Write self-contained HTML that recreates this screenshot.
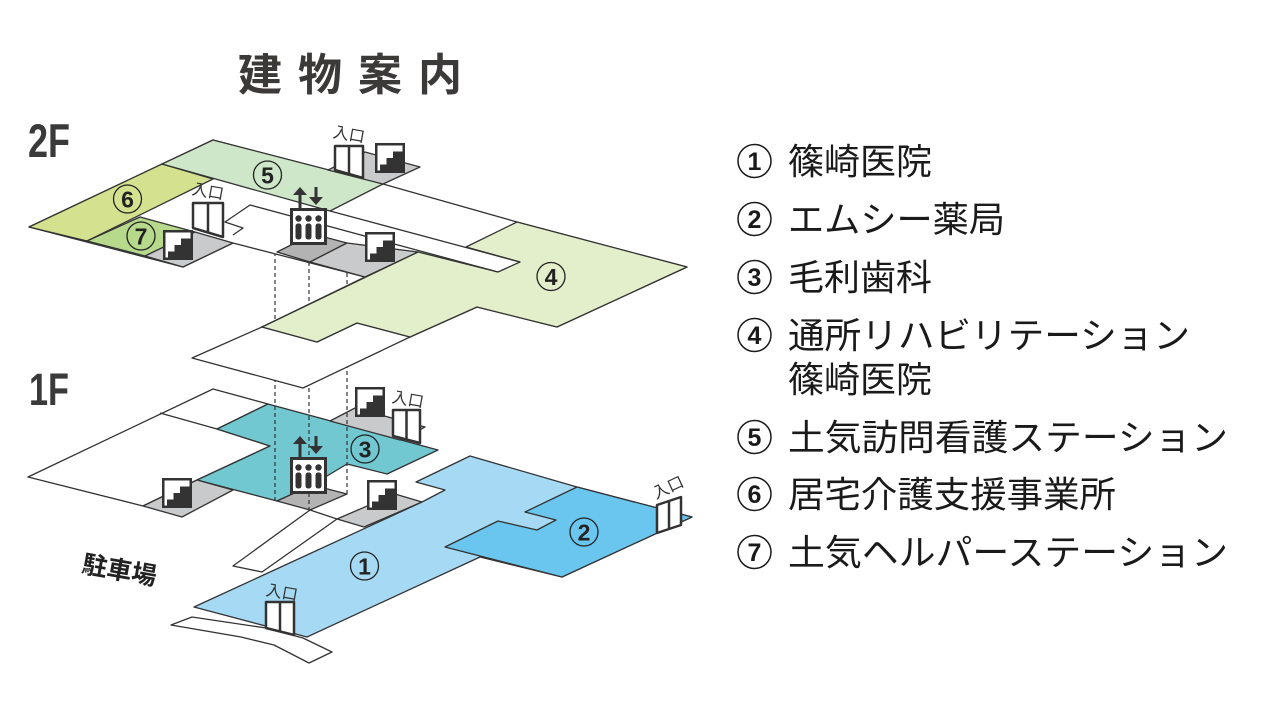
<!DOCTYPE html>
<html><head><meta charset="utf-8"><style>
html,body{margin:0;padding:0;background:#fff;}
svg{display:block;}
text{font-family:"Liberation Sans","Noto Sans CJK JP",sans-serif;}
</style></head><body>
<svg width="1280" height="720" viewBox="0 0 1280 720" xmlns="http://www.w3.org/2000/svg">
<defs>
<g id="stairs">
<rect x="1.25" y="1.25" width="27.5" height="27.5" fill="#fff" stroke="#333" stroke-width="2.5"/>
<path d="M5,27.5 V21.5 H11.5 V15 H18 V8.5 H27.5 V27.5 Z" fill="#333"/>
</g>
<g id="elev">
<path d="M10,-21 L3,-13 H8.5 V0 H11.5 V-13 H17 Z" fill="#333"/>
<path d="M26,-3 L19,-11 H24.5 V-21 H27.5 V-11 H33 Z" fill="#333"/>
<rect x="1.5" y="1.5" width="34" height="34" fill="#fff" stroke="#333" stroke-width="3"/>
<circle cx="8.5" cy="10.5" r="3.2" fill="#333"/>
<circle cx="18.5" cy="10.5" r="3.2" fill="#333"/>
<circle cx="28.5" cy="10.5" r="3.2" fill="#333"/>
<rect x="5.5" y="15.5" width="6" height="16" rx="2.5" fill="#333"/>
<rect x="15.5" y="15.5" width="6" height="16" rx="2.5" fill="#333"/>
<rect x="25.5" y="15.5" width="6" height="16" rx="2.5" fill="#333"/>
</g>
</defs>

<!-- Title -->
<text x="238" y="90" font-size="44" font-weight="bold" fill="#3c3939" textLength="224" lengthAdjust="spacing">建物案内</text>
<text x="28" y="157" font-size="47" font-weight="bold" fill="#3a3a3a" textLength="42" lengthAdjust="spacingAndGlyphs">2F</text>
<text x="29" y="405" font-size="45" font-weight="bold" fill="#3a3a3a" textLength="40" lengthAdjust="spacingAndGlyphs">1F</text>

<!-- ===== 1F ===== -->
<g stroke="#333" stroke-width="1.3" stroke-linejoin="round">
<polygon points="28,477 213,389 268,404 217,429 270,446 197,480 143,506" fill="#fff"/>
<line x1="160" y1="413" x2="217" y2="429"/>
<polygon points="217,429 268,404 438,450 387,474 347,464 312,485 277,501 197,480 270,446" fill="#72c8d1"/>
<polygon points="330,421 355,408 425,427 400,440" fill="#c9cacb"/>
<polygon points="143,506 197,480 233,490 182,517" fill="#c9cacb"/>
<polygon points="277,501 312,485 347,494 310,510" fill="#b3b3b3"/>
<polygon points="233,566 310,510 337,519 262,572" fill="#fff"/>
<polygon points="337,519 395,494 422,502 364,527" fill="#c9cacb"/>
<polygon points="194,607 422,502 445,490 416,482 470,456 577,487 692,517 562,577 480,557 307,637" fill="#a5d9f4"/>
<polygon points="577,487 692,517 562,577 445,547 498,521 537,530 556,520 525,512" fill="#6bc6ef"/>
<polygon points="171,625 192,617 266,628 303,638 332,652 309,663 274,645 241,637" fill="#fff"/>
</g>

<!-- dashed connectors -->
<g stroke="#333" stroke-width="1.2" stroke-dasharray="4 3">
<line x1="275" y1="252" x2="275" y2="501"/>
<line x1="309" y1="262" x2="309" y2="510"/>
<line x1="347" y1="273" x2="347" y2="494"/>
</g>

<!-- 1F icons -->
<use href="#stairs" x="355" y="387"/>
<use href="#stairs" x="162" y="478"/>
<use href="#stairs" x="367" y="480"/>
<use href="#elev" x="290" y="457"/>
<g fill="#fff" stroke="#333" stroke-width="2.5" stroke-linejoin="round">
<polygon points="393,410 420,410 420,443 393,436"/><line x1="406.5" y1="410" x2="406.5" y2="439.5"/>
<polygon points="266,602 294,602 294,635 266,628"/><line x1="280" y1="602" x2="280" y2="631.5"/>
<polygon points="657,505 681,497 681,525 657,533"/><line x1="669" y1="501" x2="669" y2="529"/>
</g>
<g font-size="16" fill="#333">
<text x="392" y="405" transform="rotate(10 408 399)">入口</text>
<text x="266" y="598" transform="rotate(10 282 592)">入口</text>
<text x="652" y="493" transform="rotate(-25 668 487)">入口</text>
</g>
<text x="82" y="579" font-size="25" font-weight="bold" fill="#222" transform="rotate(10 120 570)">駐車場</text>

<!-- ===== 2F ===== -->
<g stroke="#333" stroke-width="1.3" stroke-linejoin="round">
<polygon points="29,227 213,140 383,184 517,222 687,267 557,327 477,307 410,337 357,323 317,342 262,327 365,277 233,243 183,267" fill="#fff"/>
<polygon points="192,358 262,327 317,342 357,323 410,337 303,388" fill="#fff"/>
<polygon points="466,247 517,222 687,267 557,327 477,307 410,337 357,323 317,342 262,327 418,252 498,272 520,262" fill="#e3efca"/>
<polygon points="29,227 162,164 213,179 87,241" fill="#d4e290"/>
<polygon points="162,164 213,140 383,184 330,211" fill="#cde7c8"/>
<polygon points="87,241 140,217 195,232 145,256" fill="#b6d98b"/>
<polygon points="145,256 195,232 233,243 183,267" fill="#c9cacb"/>
<polygon points="328,170 365,152 420,167 383,184" fill="#c9cacb"/>
<polygon points="277,252 313,234 347,243 310,262" fill="#b3b3b3"/>
<polygon points="310,262 347,243 418,252 365,277" fill="#c9cacb"/>
<line x1="330" y1="211" x2="520" y2="262"/>
<polyline points="233,235 243,228 225,222 250,205 498,272" fill="none"/>
</g>

<!-- 2F icons -->
<use href="#stairs" x="375" y="143"/>
<use href="#stairs" x="163" y="230"/>
<use href="#stairs" x="365" y="232"/>
<use href="#elev" x="290" y="208"/>
<g fill="#fff" stroke="#333" stroke-width="2.5" stroke-linejoin="round">
<polygon points="335,146 363,146 363,178 335,170"/><line x1="349" y1="146" x2="349" y2="174"/>
<polygon points="193,203 223,203 223,237 193,228"/><line x1="208" y1="203" x2="208" y2="232.5"/>
</g>
<g font-size="16" fill="#333">
<text x="333" y="140" transform="rotate(10 349 134)">入口</text>
<text x="192" y="197" transform="rotate(10 208 191)">入口</text>
</g>

<!-- map labels -->
<g fill="none" stroke="#222" stroke-width="1.3">
<circle cx="267.5" cy="175" r="14"/>
<circle cx="127.5" cy="199" r="14"/>
<circle cx="141" cy="236" r="14"/>
<circle cx="551" cy="276.5" r="14"/>
<circle cx="365" cy="449" r="14"/>
<circle cx="584" cy="532" r="14"/>
<circle cx="364.5" cy="566" r="14"/>
</g>
<g font-size="23" font-weight="bold" fill="#222" text-anchor="middle">
<text x="267.5" y="183.5">5</text>
<text x="127.5" y="207.5">6</text>
<text x="141" y="244.5">7</text>
<text x="551" y="285">4</text>
<text x="365" y="457.5">3</text>
<text x="584" y="540.5">2</text>
<text x="364.5" y="574.5">1</text>
</g>

<!-- legend -->
<g fill="none" stroke="#1a1a1a" stroke-width="1.5">
<circle cx="754.5" cy="161" r="16.5"/>
<circle cx="754.5" cy="219" r="16.5"/>
<circle cx="754.5" cy="277" r="16.5"/>
<circle cx="754.5" cy="335" r="16.5"/>
<circle cx="754.5" cy="437" r="16.5"/>
<circle cx="754.5" cy="494" r="16.5"/>
<circle cx="754.5" cy="552" r="16.5"/>
</g>
<g font-size="25" font-weight="bold" fill="#1a1a1a" text-anchor="middle">
<text x="754.5" y="170">1</text>
<text x="754.5" y="228">2</text>
<text x="754.5" y="286">3</text>
<text x="754.5" y="344">4</text>
<text x="754.5" y="446">5</text>
<text x="754.5" y="503">6</text>
<text x="754.5" y="561">7</text>
</g>
<g font-size="36" fill="#1a1a1a">
<text x="788" y="174" textLength="144" lengthAdjust="spacingAndGlyphs">篠崎医院</text>
<text x="788" y="232" textLength="217" lengthAdjust="spacingAndGlyphs">エムシー薬局</text>
<text x="788" y="290" textLength="144" lengthAdjust="spacingAndGlyphs">毛利歯科</text>
<text x="788" y="348" textLength="402" lengthAdjust="spacingAndGlyphs">通所リハビリテーション</text>
<text x="788" y="392" textLength="144" lengthAdjust="spacingAndGlyphs">篠崎医院</text>
<text x="788" y="450" textLength="440" lengthAdjust="spacingAndGlyphs">土気訪問看護ステーション</text>
<text x="788" y="507" textLength="328" lengthAdjust="spacingAndGlyphs">居宅介護支援事業所</text>
<text x="788" y="565" textLength="440" lengthAdjust="spacingAndGlyphs">土気ヘルパーステーション</text>
</g>
</svg>
</body></html>
